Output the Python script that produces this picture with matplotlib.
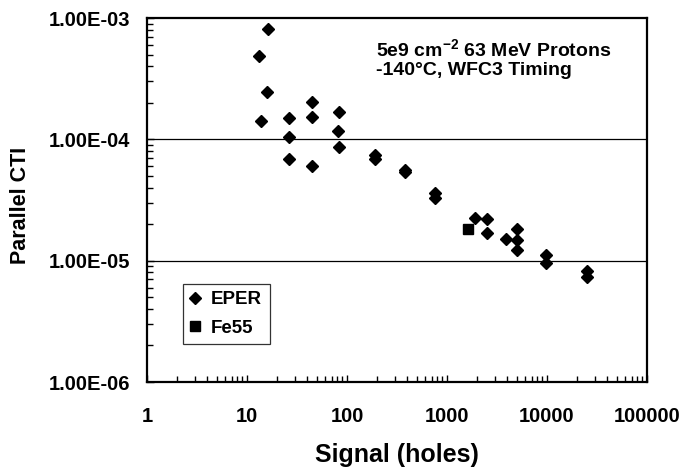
import matplotlib
matplotlib.use("Agg")
import matplotlib.pyplot as plt
from matplotlib.ticker import FixedLocator, FuncFormatter, LogLocator, NullFormatter

plt.rcParams['font.family'] = ['Liberation Sans', 'DejaVu Sans']
plt.rcParams['font.weight'] = 'bold'
plt.rcParams['mathtext.fontset'] = 'custom'
plt.rcParams['mathtext.rm'] = 'Liberation Sans:bold'
plt.rcParams['mathtext.it'] = 'Liberation Sans:bold'
plt.rcParams['mathtext.bf'] = 'Liberation Sans:bold'

# Data
eper_signal = [13.3, 16.1, 15.7, 13.7,
               26.5, 26.5, 26.5,
               45, 45, 45,
               82.6, 82, 82.6,
               190, 190,
               380, 380,
               760, 760,
               1900, 2500, 2500,
               3900, 5000, 5000, 5000,
               9800, 9800,
               25000, 25000]
eper_cti = [4.9e-4, 8.1e-4, 2.44e-4, 1.42e-4,
            1.49e-4, 1.05e-4, 6.9e-5,
            2.02e-4, 1.54e-4, 6.0e-5,
            1.69e-4, 1.18e-4, 8.6e-5,
            7.4e-5, 6.9e-5,
            5.6e-5, 5.4e-5,
            3.63e-5, 3.3e-5,
            2.23e-5, 2.19e-5, 1.68e-5,
            1.51e-5, 1.81e-5, 1.48e-5, 1.22e-5,
            1.11e-5, 9.6e-6,
            8.2e-6, 7.3e-6]
fe55_signal = [1620]
fe55_cti = [1.82e-5]

x_ticks = [1, 10, 100, 1000, 10000, 100000]
x_tick_labels = ['1', '10', '100', '1000', '10000', '100000']
y_ticks = [1e-6, 1e-5, 1e-4, 1e-3]
y_tick_labels = ['1.00E-06', '1.00E-05', '1.00E-04', '1.00E-03']

fig = plt.figure(figsize=(6.84, 4.67), dpi=100)
ax = fig.add_axes([147/684, 1 - 382/467, 500/684, 364/467])
ax.set_xscale('log')
ax.set_yscale('log')
ax.set_xlim(1, 100000)
ax.set_ylim(1e-6, 1e-3)

for yv in y_ticks[1:-1]:
    ax.axhline(yv, color='black', lw=0.9, zorder=1)

ax.plot(eper_signal, eper_cti, linestyle='none', marker='D', ms=6.6,
        color='black', mec='black', label='EPER', zorder=3)
ax.plot(fe55_signal, fe55_cti, linestyle='none', marker='s', ms=7,
        color='black', mec='black', label='Fe55', zorder=3)

ax.xaxis.set_major_locator(FixedLocator(x_ticks))
ax.xaxis.set_major_formatter(FuncFormatter(
    lambda v, p: min(zip(x_ticks, x_tick_labels), key=lambda t: abs(t[0] - v))[1]))
ax.xaxis.set_minor_locator(LogLocator(base=10, subs=range(2, 10), numticks=20))
ax.xaxis.set_minor_formatter(NullFormatter())
ax.yaxis.set_major_locator(FixedLocator(y_ticks))
ax.yaxis.set_major_formatter(FuncFormatter(
    lambda v, p: min(zip(y_ticks, y_tick_labels), key=lambda t: abs(t[0] - v))[1]))
ax.yaxis.set_minor_locator(LogLocator(base=10, subs=range(2, 10), numticks=20))
ax.yaxis.set_minor_formatter(NullFormatter())

ax.tick_params(axis='both', which='both', direction='in', top=False, right=False,
               width=1.0, color='black')
ax.tick_params(axis='both', which='major', length=5, labelsize=14.5)
ax.tick_params(axis='both', which='minor', length=4)
ax.tick_params(axis='x', which='major', pad=18)
ax.tick_params(axis='y', which='major', pad=12)

for s in ax.spines.values():
    s.set_linewidth(1.6)
    s.set_color('black')

ax.set_xlabel('Signal (holes)', fontsize=18, fontweight='bold', labelpad=12.5)
ax.set_ylabel('Parallel CTI', fontsize=15.5, fontweight='bold')
ax.yaxis.set_label_coords(-0.231, 0.485)

ax.text(0.458, 0.894, r'5e9 cm$^{-2}$ 63 MeV Protons', transform=ax.transAxes,
        fontsize=14, fontweight='bold', ha='left', va='baseline')
ax.text(0.458, 0.843, '-140°C, WFC3 Timing', transform=ax.transAxes,
        fontsize=14, fontweight='bold', ha='left', va='baseline')

leg = ax.legend(loc='lower left', bbox_to_anchor=(0.072, 0.104), borderaxespad=0,
                fontsize=13.5, frameon=True, fancybox=False, edgecolor='black',
                handlelength=0.5, handletextpad=0.6, labelspacing=0.6,
                borderpad=0.4, numpoints=1)
leg.get_frame().set_linewidth(0.9)
for t in leg.get_texts():
    t.set_fontweight('bold')

fig.savefig('out.png', dpi=100)
